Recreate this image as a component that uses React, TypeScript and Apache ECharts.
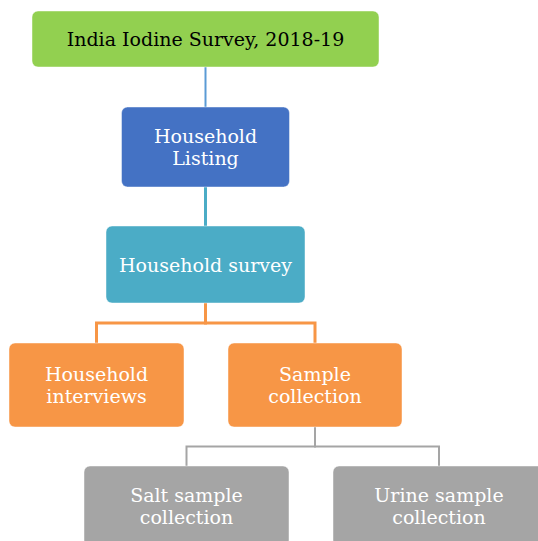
import React, { useEffect, useRef } from "react";
import * as echarts from "echarts";

// Flowchart nodes (tree structure)
const nodeLabels = [
  "India Iodine Survey, 2018-19",
  "Household\nListing",
  "Household survey",
  "Household\ninterviews",
  "Sample\ncollection",
  "Salt sample\ncollection",
  "Urine sample\ncollection",
];
const nodeParents = [-1, 0, 1, 2, 2, 4, 4];

// Layout (chart units; axes map 1 unit to 1 px)
const nodeCX = [205.5, 205.5, 205.5, 96.5, 315, 186.5, 439];
const nodeCY = [39, 147, 264.5, 385, 385, 506, 506];
const nodeW = [347, 168, 199, 175, 174, 205, 212];
const nodeH = [56, 80, 77, 84, 84, 80, 80];

// Styles
const nodeColors = ["#92D050", "#4472C4", "#4BACC6", "#F79646", "#F79646", "#A5A5A5", "#A5A5A5"];
const textColors = ["#000000", "#FFFFFF", "#FFFFFF", "#FFFFFF", "#FFFFFF", "#FFFFFF", "#FFFFFF"];
const linkColors = ["", "#5B9BD5", "#4BACC6", "#F79646", "#F79646", "#A5A5A5", "#A5A5A5"];
const linkWidths = [0, 2, 3, 3, 3, 2, 2];

const FONT = "'DejaVu Serif', Georgia, serif";

export default function App() {
  const ref = useRef<HTMLDivElement>(null);

  useEffect(() => {
    if (!ref.current) return;
    const chart = echarts.init(ref.current, null, { renderer: "svg" });

    const boxData = nodeLabels.map((label, i) => ({
      value: [nodeCX[i], nodeCY[i], nodeW[i], nodeH[i], i],
    }));

    const linkData: any[] = [];
    nodeParents.forEach((p, c) => {
      if (p < 0) return;
      const x1 = nodeCX[p];
      const y1 = nodeCY[p] + nodeH[p] / 2;
      const x2 = nodeCX[c];
      const y2 = nodeCY[c] - nodeH[c] / 2;
      const ym = (y1 + y2) / 2;
      linkData.push({
        coords: [
          [x1, y1],
          [x1, ym],
          [x2, ym],
          [x2, y2],
        ],
        lineStyle: {
          color: linkColors[c],
          width: linkWidths[c],
          opacity: 1,
          cap: "square",
          join: "miter",
        },
      });
    });

    chart.setOption({
      animation: false,
      grid: { left: 0, right: 0, top: 0, bottom: 0 },
      xAxis: { type: "value", min: 0, max: 538, show: false },
      yAxis: { type: "value", min: 0, max: 541, inverse: true, show: false },
      series: [
        {
          type: "lines",
          coordinateSystem: "cartesian2d",
          polyline: true,
          z: 1,
          silent: true,
          lineStyle: { opacity: 1 },
          data: linkData,
        },
        {
          type: "custom",
          coordinateSystem: "cartesian2d",
          z: 2,
          silent: true,
          data: boxData,
          renderItem: (params: any, api: any) => {
            const idx = api.value(4);
            const c = api.coord([api.value(0), api.value(1)]);
            const s = api.size([api.value(2), api.value(3)]);
            const w = s[0];
            const h = s[1];
            return {
              type: "group",
              children: [
                {
                  type: "rect",
                  shape: { x: c[0] - w / 2, y: c[1] - h / 2, width: w, height: h, r: 6 },
                  style: { fill: nodeColors[idx], stroke: "rgba(255,255,255,0.45)", lineWidth: 1 },
                },
                {
                  type: "text",
                  style: {
                    text: nodeLabels[idx],
                    x: c[0],
                    y: c[1],
                    align: "center",
                    verticalAlign: "middle",
                    fill: textColors[idx],
                    fontFamily: FONT,
                    fontSize: 19,
                    lineHeight: 22,
                  },
                },
              ],
            };
          },
        },
      ],
    });

    return () => chart.dispose();
  }, []);

  return (
    <div
      ref={ref}
      style={{ position: "fixed", left: 0, top: 0, width: 538, height: 541, background: "#ffffff" }}
    />
  );
}
